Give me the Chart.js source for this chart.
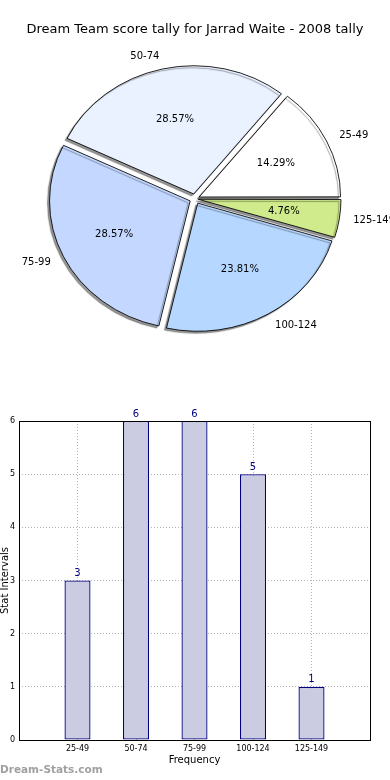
<!DOCTYPE html>
<html>
<head>
<meta charset="utf-8">
<script src="https://cdn.jsdelivr.net/npm/chart.js@4.4.1/dist/chart.umd.min.js"></script>
<style>
    body { margin: 0; background: #fff; width: 390px; height: 780px; position: relative; overflow: hidden; }
    #pieCanvas { position: absolute; left: 0; top: 0; }
    #barCanvas { position: absolute; left: 0; top: 400px; }
    #mark { position: absolute; left: 0; top: 763px; font: bold 10.5px 'DejaVu Sans', sans-serif; color: #a0a0a0; white-space: nowrap; }
</style>
</head>
<body>
<canvas id="pieCanvas" width="390" height="380"></canvas>
<canvas id="barCanvas" width="390" height="380"></canvas>
<div id="mark">Dream-Stats.com</div>
<script>
// Data
const title = 'Dream Team score tally for Jarrad Waite - 2008 tally';
const categories = ['25-49', '50-74', '75-99', '100-124', '125-149'];   // score intervals
const counts = [3, 6, 6, 5, 1];                                          // games in each interval
const yTicks = [0, 1, 2, 3, 4, 5, 6];

// Styles
const pieColors = ['#ffffff', '#eaf1ff', '#c4d8ff', '#b6d7ff', '#d0eb8b'];
const EXPLODE = 5.5;        // px each slice is pushed out
const SQUASH = 0.912;       // the pie is an ellipse, like the old matplotlib one
const PIE_RADIUS = 140.5;

Chart.defaults.font.family = "'DejaVu Sans', sans-serif";
Chart.defaults.color = '#000';

var total = counts.reduce((a, b) => a + b, 0);

// matplotlib goes counter-clockwise, Chart.js clockwise: reverse the order
var pieLabels = categories.slice().reverse();
var pieValues = counts.slice().reverse();
var pieFill = pieColors.slice().reverse();

/**
 * Offset so that every slice really moves EXPLODE px (Chart.js scales it)
 */
function sliceOffset(c) {
    var circ = c.raw / total * Math.PI * 2;
    var fix = 1 - Math.sin(Math.min(Math.PI, circ));
    return EXPLODE * 4 / (1 + fix);
}

// Squash the pie into an ellipse and give it a shadow
const ellipsePlugin = {
    id: 'ellipse',
    beforeDatasetsDraw(chart) {
        var a = chart.chartArea, ctx = chart.ctx;
        var cx = (a.left + a.right) / 2, cy = (a.top + a.bottom) / 2;
        ctx.save();
        ctx.translate(cx, cy);
        ctx.scale(1, SQUASH);
        ctx.translate(-cx, -cy);
        ctx.shadowColor = 'rgba(0, 0, 0, 0.42)';
        ctx.shadowOffsetX = -2;
        ctx.shadowOffsetY = 2;
        ctx.shadowBlur = 1;
    },
    afterDatasetsDraw(chart) {
        var ctx = chart.ctx;
        ctx.restore();

        // slice labels and percentages
        var meta = chart.getDatasetMeta(0);
        ctx.save();
        ctx.font = "10px 'DejaVu Sans'";
        ctx.fillStyle = '#000';
        ctx.textBaseline = 'middle';
        meta.data.forEach((el, i) => {
            var h = (el.startAngle + el.endAngle) / 2;
            var ex = el.x + EXPLODE * Math.cos(h);
            var ey = el.y + EXPLODE * Math.sin(h) * SQUASH;
            var r = el.outerRadius;

            ctx.textAlign = Math.cos(h) > 0 ? 'left' : 'right';
            ctx.fillText(pieLabels[i], ex + 1.1 * r * Math.cos(h), ey + 1.1 * r * Math.sin(h) * SQUASH);

            ctx.textAlign = 'center';
            var pct = (pieValues[i] * 100 / total).toFixed(2) + '%';
            ctx.fillText(pct, ex + 0.6 * r * Math.cos(h), ey + 0.6 * r * Math.sin(h) * SQUASH);
        });
        ctx.restore();
    }
};

new Chart(document.getElementById('pieCanvas'), {
    type: 'pie',
    data: {
        labels: pieLabels,
        datasets: [{
            data: pieValues,
            backgroundColor: pieFill,
            borderColor: '#000',
            borderWidth: 0.9,
            offset: sliceOffset,
            hoverOffset: 0,
            clip: false,
        }]
    },
    options: {
        responsive: false,
        animation: false,
        devicePixelRatio: 1,
        rotation: 90,
        radius: PIE_RADIUS,
        layout: { padding: { top: 0, bottom: 20, left: 0, right: 0 } },
        plugins: {
            legend: { display: false },
            tooltip: { enabled: false },
            title: {
                display: true,
                text: title,
                color: '#000',
                font: { size: 13, weight: 'normal' },
                padding: { top: 22, bottom: 0 }
            }
        }
    },
    plugins: [ellipsePlugin]
});

// Bar chart: one empty slot each side, like the matplotlib x range
var barLabels = [''].concat(categories, ['']);
var barValues = [null].concat(counts, [null]);

// Frame around the axes and the value above each bar
const framePlugin = {
    id: 'frame',
    afterDraw(chart) {
        var a = chart.chartArea, ctx = chart.ctx;
        ctx.save();
        ctx.strokeStyle = '#000';
        ctx.lineWidth = 1;
        ctx.strokeRect(Math.round(a.left) + 0.5, Math.round(a.top) + 0.5,
            Math.round(a.right - a.left), Math.round(a.bottom - a.top));

        var meta = chart.getDatasetMeta(0);
        ctx.font = "10px 'DejaVu Sans'";
        ctx.fillStyle = '#000080';
        ctx.textAlign = 'center';
        ctx.textBaseline = 'bottom';
        meta.data.forEach((el, i) => {
            if (barValues[i] === null) {
                return;
            }
            ctx.fillText(String(barValues[i]), el.x, el.y - 2);
        });
        ctx.restore();
    }
};

new Chart(document.getElementById('barCanvas'), {
    type: 'bar',
    data: {
        labels: barLabels,
        datasets: [{
            data: barValues,
            backgroundColor: '#cbcbe2',
            borderColor: '#000080',
            borderWidth: 1.3,
            borderSkipped: false,
            categoryPercentage: 1,
            barPercentage: 0.445,
        }]
    },
    options: {
        responsive: false,
        animation: false,
        devicePixelRatio: 1,
        layout: { padding: { top: 21, right: 20, left: 0, bottom: 0 } },
        plugins: {
            legend: { display: false },
            tooltip: { enabled: false },
        },
        scales: {
            x: {
                offset: false,
                z: 1,
                border: { display: false, dash: [1, 2] },
                grid: { color: '#b4b4b4', lineWidth: 1, drawTicks: false, offset: false },
                ticks: { font: { size: 8 }, color: '#000', padding: 4, autoSkip: false, maxRotation: 0 },
                title: { display: true, text: 'Frequency', color: '#000', font: { size: 10 }, padding: { top: 0, bottom: 14 } },
                afterFit(s) { s.height = 40; }
            },
            y: {
                min: yTicks[0],
                max: yTicks[yTicks.length - 1],
                z: 1,
                border: { display: false, dash: [1, 2] },
                grid: { color: '#b4b4b4', lineWidth: 1, drawTicks: false },
                afterBuildTicks(s) { s.ticks = yTicks.map(v => ({ value: v })); },
                ticks: { font: { size: 8 }, color: '#000', padding: 4 },
                title: { display: true, text: 'Stat Intervals', color: '#000', font: { size: 10 }, padding: { top: -1, bottom: 0 } },
                afterFit(s) { s.width = 19; }
            }
        }
    },
    plugins: [framePlugin]
});
</script>
</body>
</html>
